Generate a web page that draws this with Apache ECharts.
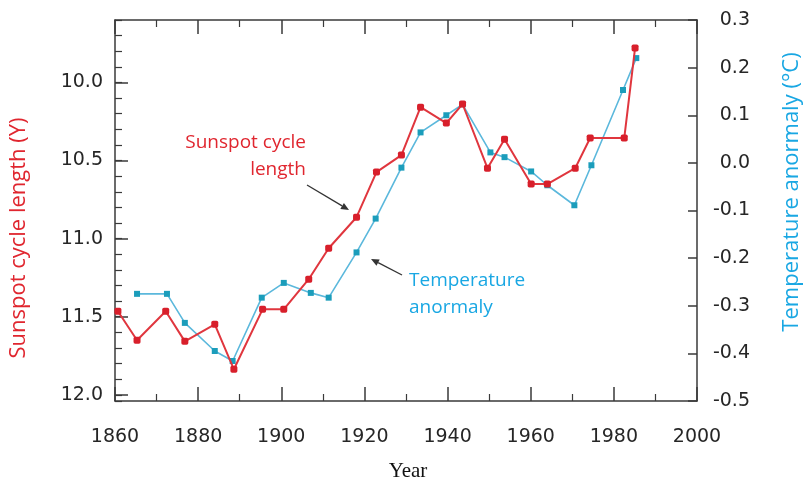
<!DOCTYPE html>
<html>
<head>
<meta charset="utf-8">
<script src="https://cdn.jsdelivr.net/npm/echarts@6/dist/echarts.min.js"></script>
<style>html,body{margin:0;padding:0;background:#fff;}#c{width:805px;height:484px;}</style>
</head>
<body>
<div id="c"></div>
<script>
// ---- data ----
const sunspotYears = [1860.7, 1865.3, 1872.2, 1876.8, 1884.0, 1888.6, 1895.5, 1900.6, 1906.6, 1911.4, 1918.1, 1922.9, 1928.9, 1933.5, 1939.7, 1943.6, 1949.6, 1953.7, 1960.1, 1964.0, 1970.7, 1974.3, 1982.5, 1985.1];
const sunspotLength = [11.465, 11.651, 11.465, 11.658, 11.549, 11.837, 11.453, 11.453, 11.26, 11.062, 10.863, 10.574, 10.465, 10.158, 10.26, 10.138, 10.549, 10.363, 10.651, 10.651, 10.549, 10.356, 10.356, 9.78];
const tempYears = [1865.3, 1872.5, 1876.8, 1884.0, 1888.3, 1895.3, 1900.6, 1907.1, 1911.4, 1918.1, 1922.7, 1928.9, 1933.5, 1939.7, 1943.6, 1950.3, 1953.7, 1960.1, 1964.0, 1970.5, 1974.6, 1982.2, 1985.4];
const tempAnomaly = [-0.275, -0.275, -0.336, -0.395, -0.416, -0.283, -0.252, -0.273, -0.283, -0.188, -0.117, -0.01, 0.064, 0.1, 0.123, 0.022, 0.012, -0.018, -0.047, -0.089, -0.005, 0.153, 0.22];
const leftMajorTicks = [10.0, 10.5, 11.0, 11.5, 12.0];
const xTitle = 'Year';
const leftTitle = 'Sunspot cycle length (Y)';
const rightTitle = 'Temperature anormaly (°C)';

const RED = '#e0262f';
const BLUE = '#19a7e3';
const AXIS = '#3a3a3a';
const labelFont = { fontFamily: 'DejaVu Sans', fontSize: 19, color: '#262626' };

const chart = echarts.init(document.getElementById('c'), null, { renderer: 'canvas' });

function arrow(x1, y1, x2, y2) {
  const dx = x2 - x1, dy = y2 - y1, L = Math.hypot(dx, dy);
  const ux = dx / L, uy = dy / L, px = -uy, py = ux;
  const hl = 8, hw = 3.5;
  const bx = x2 - ux * hl, by = y2 - uy * hl;
  return [
    { type: 'line', shape: { x1: x1, y1: y1, x2: bx, y2: by }, style: { stroke: '#333', lineWidth: 1.3 } },
    { type: 'polygon', shape: { points: [[x2, y2], [bx + px * hw, by + py * hw], [bx - px * hw, by - py * hw]] }, style: { fill: '#333' } }
  ];
}

const annFont = { fontFamily: 'Open Sans', fontSize: 19 };

const option = {
  animation: false,
  backgroundColor: '#fff',
  grid: { left: 115, right: 108, top: 20, bottom: 83 },
  xAxis: [
    {
      type: 'value', position: 'bottom', min: 1860, max: 2000, interval: 20,
      axisLine: { show: true, onZero: false, lineStyle: { color: AXIS, width: 1.5 } },
      axisTick: { show: true, inside: true, length: 14, lineStyle: { color: AXIS, width: 1.5 } },
      minorTick: { show: true, splitNumber: 2, length: 7, lineStyle: { color: AXIS, width: 1.2 } },
      axisLabel: Object.assign({ margin: 27, formatter: function (v) { return String(v); } }, labelFont),
      splitLine: { show: false }
    },
    {
      type: 'value', position: 'top', min: 1860, max: 2000, interval: 20,
      axisLine: { show: true, onZero: false, lineStyle: { color: AXIS, width: 1.5 } },
      axisTick: { show: true, inside: true, length: 14, lineStyle: { color: AXIS, width: 1.5 } },
      minorTick: { show: true, splitNumber: 2, length: 7, lineStyle: { color: AXIS, width: 1.2 } },
      axisLabel: { show: false },
      splitLine: { show: false }
    }
  ],
  yAxis: [
    {
      type: 'value', position: 'left', inverse: true, min: 9.6, max: 12.04, interval: 0.1,
      axisLine: { show: true, onZero: false, lineStyle: { color: AXIS, width: 1.5 } },
      axisTick: { show: true, inside: true, length: 7, lineStyle: { color: AXIS, width: 1.2 } },
      axisLabel: Object.assign({
        margin: 12, showMinLabel: true, showMaxLabel: true,
        formatter: function (v) {
          for (const t of leftMajorTicks) { if (Math.abs(v - t) < 1e-6) return t.toFixed(1); }
          return '';
        }
      }, labelFont),
      splitLine: { show: false }
    },
    {
      type: 'value', position: 'right', min: -0.5, max: 0.3, interval: 0.1,
      axisLine: { show: true, onZero: false, lineStyle: { color: AXIS, width: 1.5 } },
      axisTick: { show: true, inside: true, length: 9, lineStyle: { color: AXIS, width: 1.5 } },
      axisLabel: Object.assign({
        margin: 53, align: 'right',
        formatter: function (v) { const r = Math.round(v * 10) / 10; return (Math.abs(r) < 1e-9 ? 0 : r).toFixed(1); }
      }, labelFont),
      splitLine: { show: false }
    },
    {
      type: 'value', position: 'left', inverse: true, min: 9.6, max: 12.04,
      axisLine: { show: false },
      axisTick: { show: true, inside: true, length: 13, customValues: leftMajorTicks, lineStyle: { color: AXIS, width: 1.5 } },
      axisLabel: { show: false },
      splitLine: { show: false }
    }
  ],
  series: [
    {
      name: 'Temperature anormaly', type: 'line', xAxisIndex: 0, yAxisIndex: 1,
      data: tempYears.map((y, i) => [y, tempAnomaly[i]]),
      symbol: 'rect', symbolSize: 6,
      lineStyle: { color: '#5bb8dc', width: 1.6 },
      itemStyle: { color: '#1b9dbb' },
      z: 3
    },
    {
      name: 'Sunspot cycle length', type: 'line', xAxisIndex: 0, yAxisIndex: 0,
      data: sunspotYears.map((y, i) => [y, sunspotLength[i]]),
      symbol: 'roundRect', symbolSize: 7,
      lineStyle: { color: '#e0363e', width: 2 },
      itemStyle: { color: '#d81f2b' },
      z: 4
    }
  ],
  graphic: [
    { type: 'text', x: 19, y: 238, rotation: Math.PI / 2, style: { text: leftTitle, fill: RED, fontFamily: 'Open Sans', fontSize: 22, align: 'center', verticalAlign: 'middle' } },
    { type: 'text', x: 792, y: 192, rotation: Math.PI / 2, style: { text: rightTitle, fill: BLUE, fontFamily: 'Open Sans', fontSize: 22, align: 'center', verticalAlign: 'middle' } },
    { type: 'text', x: 408, y: 471, style: { text: xTitle, fill: '#111', fontFamily: 'Liberation Serif', fontSize: 21, align: 'center', verticalAlign: 'middle' } },
    { type: 'text', x: 306, y: 143, style: Object.assign({ text: 'Sunspot cycle', fill: RED, align: 'right', verticalAlign: 'middle' }, annFont) },
    { type: 'text', x: 306, y: 170, style: Object.assign({ text: 'length', fill: RED, align: 'right', verticalAlign: 'middle' }, annFont) },
    { type: 'text', x: 409, y: 281, style: Object.assign({ text: 'Temperature', fill: BLUE, align: 'left', verticalAlign: 'middle' }, annFont) },
    { type: 'text', x: 409, y: 308, style: Object.assign({ text: 'anormaly', fill: BLUE, align: 'left', verticalAlign: 'middle' }, annFont) }
  ].concat(arrow(307, 185, 349, 210)).concat(arrow(402, 275, 371, 259))
};

chart.setOption(option);
</script>
</body>
</html>
